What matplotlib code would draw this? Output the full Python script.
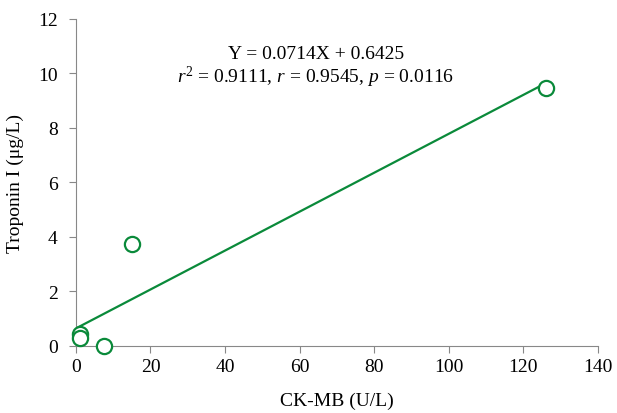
import numpy as np
import matplotlib.pyplot as plt

plt.rcParams['font.family'] = ['Liberation Serif', 'DejaVu Serif']
plt.rcParams['mathtext.fontset'] = 'custom'
plt.rcParams['mathtext.rm'] = 'Liberation Serif'
plt.rcParams['mathtext.it'] = 'Liberation Serif:italic'

# data
ckmb = np.array([1.0, 1.0, 7.5, 15.0, 126.0])
troponin = np.array([0.45, 0.3, 0.0, 3.75, 9.45])
slope = 0.0714
intercept = 0.6425
line_x = np.array([0.0, 126.0])

green = '#0a8a3a'

fig = plt.figure(figsize=(6.17, 4.14), dpi=100)
ax = fig.add_axes([0.123, 0.162, 0.846, 0.79])

ax.plot(line_x, slope * line_x + intercept, color=green, lw=1.6, zorder=2)
ax.scatter(ckmb, troponin, s=120, facecolors='white', edgecolors=green,
           linewidths=1.6, zorder=3, clip_on=False)

ax.text(0.46, 0.895, 'Y = 0.0714X + 0.6425', transform=ax.transAxes,
        ha='center', va='center', fontsize=14)
ax.text(0.46, 0.825, r'$r^2$ = 0.9111, $r$ = 0.9545, $p$ = 0.0116',
        transform=ax.transAxes, ha='center', va='center', fontsize=14)

ax.set_xlim(0, 140)
ax.set_ylim(0, 12)
ax.set_xticks(np.arange(0, 141, 20))
ax.set_yticks(np.arange(0, 13, 2))
ax.set_xlabel('CK-MB (U/L)', fontsize=14, labelpad=12)
ax.set_ylabel('Troponin I (μg/L)', fontsize=14, labelpad=10)
ax.tick_params(labelsize=14, color='#888888', length=5, direction='out')
ax.tick_params(axis='x', pad=4)
ax.tick_params(axis='y', pad=8)
for s in ['top', 'right']:
    ax.spines[s].set_visible(False)
for s in ['left', 'bottom']:
    ax.spines[s].set_color('#888888')

plt.savefig('out.png', dpi=100)
